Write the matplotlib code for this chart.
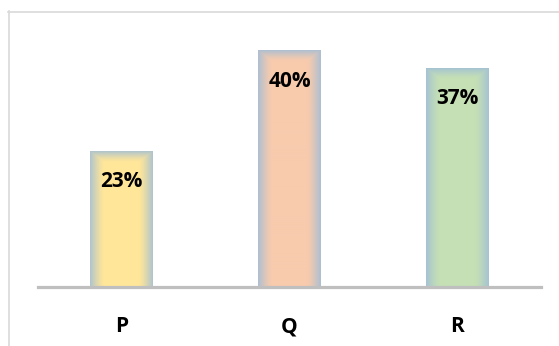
import numpy as np
import matplotlib.pyplot as plt
from matplotlib.colors import to_rgb
from matplotlib.lines import Line2D

# data
categories = ['P', 'Q', 'R']
shares = [23, 40, 37]
labels = ['23%', '40%', '37%']
fill_colors = ['#FFE699', '#F8CBAD', '#C5E0B4']
glow_color = '#9FBDD8'

plt.rcParams['font.family'] = ['Open Sans', 'DejaVu Sans']

fig = plt.figure(figsize=(5.59, 3.46), dpi=100)
ax = fig.add_axes([38 / 559, 59 / 346, 503 / 559, 266 / 346])

x = np.arange(len(categories))
bars = ax.bar(x, shares, width=0.375, color='none', edgecolor='none', zorder=2)

ax.set_xlim(-0.5, len(categories) - 0.5)
ax.set_ylim(0, 45)

# soft glow fill: blend edge colour into the fill colour
glow = np.array(to_rgb(glow_color))
fig.canvas.draw()
for bar, c in zip(bars, fill_colors):
    x0, y0 = bar.get_x(), 0
    x1, y1 = bar.get_x() + bar.get_width(), bar.get_height()
    (px0, py0), (px1, py1) = ax.transData.transform([(x0, y0), (x1, y1)])
    nx, ny = int(round(px1 - px0)), int(round(py1 - py0))
    xx = np.arange(nx) + 0.5
    yy = np.arange(ny) + 0.5
    dx = np.minimum(xx, nx - xx)[None, :]
    dtop = yy[:, None] * 1.3  # row 0 is top (origin upper)
    d = np.minimum(dx, dtop)
    w = 0.85 * np.clip(1 - d / 14.0, 0, 1) ** 1.3
    base = np.array(to_rgb(c))
    img = base[None, None, :] * (1 - w[..., None]) + glow[None, None, :] * w[..., None]
    ax.imshow(img, extent=(x0, x1, y0, y1), origin='upper', aspect='auto',
              interpolation='bilinear', zorder=2)

ax.set_xlim(-0.5, len(categories) - 0.5)
ax.set_ylim(0, 45)

for bar, lab in zip(bars, labels):
    ax.annotate(lab, (bar.get_x() + bar.get_width() / 2, bar.get_height()),
                xytext=(0, -22), textcoords='offset points',
                ha='center', va='center', fontsize=15, fontweight='bold',
                color='black', zorder=3)

for s in ['top', 'right', 'left']:
    ax.spines[s].set_visible(False)
ax.spines['bottom'].set_color('#BFBFBF')
ax.spines['bottom'].set_linewidth(2.3)
ax.spines['bottom'].set_zorder(4)
ax.set_yticks([])
ax.set_xticks(x)
ax.set_xticklabels(categories, fontsize=15, fontweight='bold')
ax.tick_params(axis='x', length=0, pad=21)

# chart area border (top and left visible)
fig.add_artist(Line2D([8 / 559, 1.0], [1 - 11.5 / 346, 1 - 11.5 / 346],
                      color='#D9D9D9', lw=1.2, transform=fig.transFigure))
fig.add_artist(Line2D([8.5 / 559, 8.5 / 559], [0, 1 - 11 / 346],
                      color='#D9D9D9', lw=1.2, transform=fig.transFigure))

fig.savefig('out.png', dpi=100)
